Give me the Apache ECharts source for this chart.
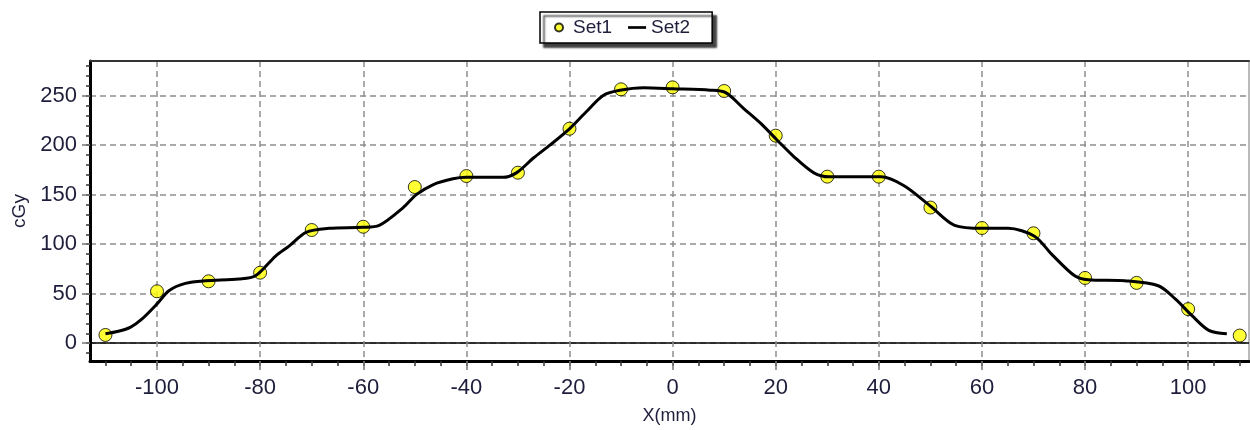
<!DOCTYPE html>
<html>
<head>
<meta charset="utf-8">
<script src="https://cdn.jsdelivr.net/npm/echarts@6/dist/echarts.min.js"></script>
<style>
  html, body { margin: 0; padding: 0; background: #fff; }
  #chart { width: 1250px; height: 430px; }
</style>
</head>
<body>
<div id="chart"></div>
<script>
// Measured dose points (Set1)
const set1X = [-110, -100, -90, -80, -70, -60, -50, -40, -30, -20, -10, 0, 10, 20, 30, 40, 50, 60, 70, 80, 90, 100, 110];
const set1Y = [8.3, 52.4, 62.5, 71.2, 114.3, 117.6, 157.7, 168.8, 172.2, 216.6, 256.4, 258.4, 254.7, 209.6, 168.2, 168.2, 137, 116.3, 111, 65.9, 60.9, 34.4, 7.7];

// Calculated profile (Set2)
const set2X = [-110, -107.5, -105.2, -102.9, -100, -97.7, -94.5, -90.6, -84.1, -80.9, -77, -74.4, -71.1, -66.6, -60.1, -56.9,
  -52.3, -49.7, -46.5, -42.6, -40, -32.9, -30.3, -27, -23.8, -19.9, -16.7, -13.4, -10.2, -5.6, 0, 7.3, 10.3, 13.8, 17.1,
  20.3, 23.5, 27.4, 30.3, 40.4, 44.9, 50.1, 54.7, 60.2, 65.1, 70.2, 73.5, 78, 80.6, 87.7, 94.2, 97.5, 100.7, 104, 107.5];
const set2Y = [9.5, 12, 16, 24.6, 39.7, 53, 60.4, 63, 64.8, 68, 88, 98, 112, 116, 117, 119,
  136.7, 150, 160, 166, 167.5, 167.5, 172, 187, 200, 217, 234, 250.5, 255.5, 258, 257, 255.5, 253, 237, 222,
  205, 188.5, 172, 168, 168, 159, 138, 119, 116, 116, 108, 90, 68, 64, 63, 58, 44.7, 28, 12.9, 9.5];

// Axis ranges and tick positions
const xRange = [-113, 111.8];
const yRange = [-18, 285];
const xLabelTicks = [-100, -80, -60, -40, -20, 0, 20, 40, 60, 80, 100];
const xSmallTicks = [-110, -105, -100, -95, -90, -85, -80, -75, -70, -65, -60, -55, -50, -45, -40, -35, -30, -25, -20, -15, -10, -5,
  0, 5, 10, 15, 20, 25, 30, 35, 40, 45, 50, 55, 60, 65, 70, 75, 80, 85, 90, 95, 100, 105, 110];
const yLabelTicks = [0, 50, 100, 150, 200, 250];
const ySmallTicks = [-10, 0, 10, 20, 30, 40, 50, 60, 70, 80, 90, 100, 110, 120, 130, 140, 150, 160, 170, 180, 190, 200,
  210, 220, 230, 240, 250, 260, 270, 280];
const zeroLine = [0];

const FONT = '"Liberation Sans", Arial, sans-serif';
const TEXT = '#1e1e3c';
const gridDash = { color: '#8f8f8f', width: 1.5, type: [6, 4] };

const chart = echarts.init(document.getElementById('chart'), null, { renderer: 'canvas' });

chart.setOption({
  animation: false,
  backgroundColor: '#ffffff',
  textStyle: { fontFamily: FONT },
  legend: {
    data: [
      { name: 'Set1', icon: 'circle' },
      { name: 'Set2', icon: 'path://M0,0H20V3H0Z', itemStyle: { color: '#000', borderWidth: 0 } }
    ],
    left: 540,
    top: 12,
    itemWidth: 18,
    itemHeight: 8,
    itemGap: 16,
    symbolKeepAspect: true,
    padding: [6, 22, 6, 14],
    backgroundColor: '#ffffff',
    borderColor: '#000000',
    borderWidth: 1.5,
    shadowColor: 'rgba(0,0,0,0.75)',
    shadowBlur: 2,
    shadowOffsetX: 4,
    shadowOffsetY: 4,
    textStyle: { fontFamily: FONT, fontSize: 19, color: TEXT }
  },
  grid: {
    left: 90, right: 1, top: 61, bottom: 67,
    show: true,
    backgroundColor: '#ffffff',
    borderColor: '#777777',
    borderWidth: 1
  },
  xAxis: [
    {
      type: 'value', position: 'bottom', min: xRange[0], max: xRange[1],
      name: 'X(mm)', nameLocation: 'middle', nameGap: 46,
      nameTextStyle: { fontFamily: FONT, fontSize: 18, color: TEXT },
      axisLine: { show: true, onZero: false, lineStyle: { color: '#000', width: 3 } },
      axisTick: { show: true, customValues: xSmallTicks, length: 5, lineStyle: { color: '#333', width: 1.5 } },
      axisLabel: { customValues: xLabelTicks, margin: 16, fontFamily: FONT, fontSize: 22, color: TEXT },
      splitLine: { show: false }
    },
    {
      type: 'value', position: 'bottom', min: xRange[0], max: xRange[1],
      axisLine: { show: false, onZero: false },
      axisTick: { show: true, customValues: xLabelTicks, length: 9, lineStyle: { color: '#777', width: 1.5 } },
      axisLabel: { show: false },
      splitLine: { show: true, lineStyle: gridDash }
    },
    {
      type: 'value', position: 'top', min: xRange[0], max: xRange[1],
      axisLine: { show: true, onZero: false, lineStyle: { color: '#333', width: 2 } },
      axisTick: { show: false },
      axisLabel: { show: false },
      splitLine: { show: false }
    }
  ],
  yAxis: [
    {
      type: 'value', position: 'left', min: yRange[0], max: yRange[1],
      name: 'cGy', nameLocation: 'middle', nameGap: 59, nameRotate: 90,
      nameTextStyle: { fontFamily: FONT, fontSize: 19, color: TEXT },
      axisLine: { show: true, onZero: false, lineStyle: { color: '#000', width: 3 } },
      axisTick: { show: true, customValues: ySmallTicks, length: 4, lineStyle: { color: '#333', width: 1.5 } },
      axisLabel: { customValues: yLabelTicks, margin: 13, fontFamily: FONT, fontSize: 22, color: TEXT },
      splitLine: { show: false }
    },
    {
      type: 'value', position: 'left', min: yRange[0], max: yRange[1],
      axisLine: { show: false, onZero: false },
      axisTick: { show: true, customValues: yLabelTicks, length: 8, lineStyle: { color: '#777', width: 1.5 } },
      axisLabel: { show: false },
      splitLine: { show: true, lineStyle: gridDash }
    },
    {
      type: 'value', position: 'left', min: yRange[0], max: yRange[1],
      axisLine: { show: false, onZero: false },
      axisTick: { show: false, customValues: zeroLine },
      axisLabel: { show: false },
      splitLine: { show: true, lineStyle: { color: '#000', width: 1.5, type: 'solid' } }
    }
  ],
  series: [
    {
      name: 'Set1',
      type: 'scatter',
      xAxisIndex: 0, yAxisIndex: 0,
      data: set1X.map((x, i) => [x, set1Y[i]]),
      symbol: 'circle',
      symbolSize: 13,
      itemStyle: { color: '#ffff00', borderColor: '#000', borderWidth: 1 },
      z: 3
    },
    {
      name: 'Set2',
      type: 'line',
      xAxisIndex: 0, yAxisIndex: 0,
      data: set2X.map((x, i) => [x, set2Y[i]]),
      showSymbol: false,
      symbol: 'none',
      smooth: 0.3,
      lineStyle: { color: '#000', width: 3 },
      itemStyle: { color: '#000' },
      z: 4
    }
  ]
});
</script>
</body>
</html>
